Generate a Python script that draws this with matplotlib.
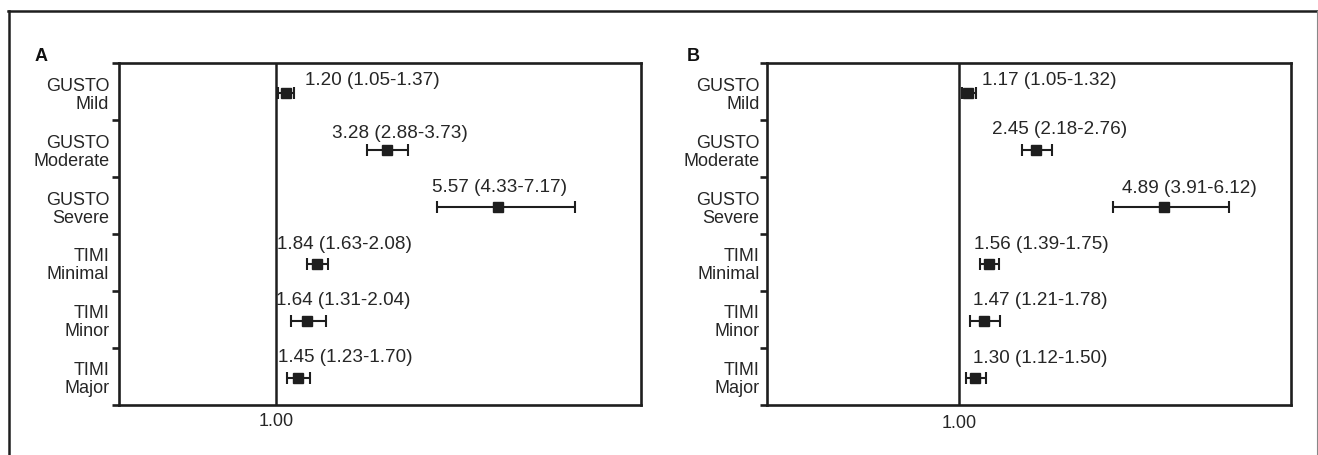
import matplotlib
matplotlib.use("Agg")
import matplotlib.pyplot as plt
from matplotlib.lines import Line2D
import numpy as np

plt.rcParams['font.family'] = ['Liberation Sans', 'DejaVu Sans']

# ---- data ----
categories = ["GUSTO\nMild", "GUSTO\nModerate", "GUSTO\nSevere",
              "TIMI\nMinimal", "TIMI\nMinor", "TIMI\nMajor"]

est_a = [1.20, 3.28, 5.57, 1.84, 1.64, 1.45]
low_a = [1.05, 2.88, 4.33, 1.63, 1.31, 1.23]
high_a = [1.37, 3.73, 7.17, 2.08, 2.04, 1.70]

est_b = [1.17, 2.45, 4.89, 1.56, 1.47, 1.30]
low_b = [1.05, 2.18, 3.91, 1.39, 1.21, 1.12]
high_b = [1.32, 2.76, 6.12, 1.75, 1.78, 1.50]

ref_value = 1.00
xtick_labels = ["1.00"]
panel_labels = ["A", "B"]

# ---- layout / style ----
W, H = 1318, 456
DARK = "#1e1e1e"
TXT = "#262626"
FS_DATA = 13.6
FS_CAT = 13.0

fig = plt.figure(figsize=(W / 100, H / 100), dpi=100)

def px_axes(left, right, top, bottom):
    return fig.add_axes([left / W, 1 - bottom / H, (right - left) / W, (bottom - top) / H])

panels = [
    dict(rect=(119, 641, 64.3, 405.7), xlim=(-2.237, 8.526),
         est=est_a, low=low_a, high=high_a, label_x=35, tick_pad=(7, 5),
         offs=[(13.7, 10), (-39.6, 13), (-47.5, 15), (-28.8, 15), (-22.3, 15.5), (-14, 15.5)]),
    dict(rect=(766.6, 1291.4, 64.3, 405.7), xlim=(-2.657, 7.30),
         est=est_b, low=low_b, high=high_b, label_x=686.6, tick_pad=(5, 7),
         offs=[(10, 10), (-31.7, 15.5), (-30.2, 14.5), (-10.8, 15), (-7.9, 15.5), (-1.4, 14.5)]),
]

n = len(categories)
ypos = np.arange(n)

for p, plabel in zip(panels, panel_labels):
    ax = px_axes(*p["rect"])
    est = np.array(p["est"]); lo = np.array(p["low"]); hi = np.array(p["high"])
    ax.set_xlim(*p["xlim"])
    ax.set_ylim(n - 0.5, -0.5)
    ax.axvline(ref_value, color=DARK, lw=1.8, zorder=1)
    ax.errorbar(est, ypos + 0.03, xerr=[est - lo, hi - est], fmt='s', color=DARK,
                ecolor=DARK, markersize=6.6, elinewidth=1.5, capsize=4.4, capthick=1.5,
                zorder=3)
    for i in range(n):
        txt = f"{est[i]:.2f} ({lo[i]:.2f}-{hi[i]:.2f})"
        dx, dy = p["offs"][i]
        ax.annotate(txt, xy=(est[i], ypos[i] + 0.03), xytext=(dx, dy),
                    textcoords='offset points', ha='left', va='center',
                    fontsize=FS_DATA, color=TXT)
    for s in ax.spines.values():
        s.set_linewidth(1.9)
        s.set_color(DARK)
    ax.set_yticks(ypos)
    ax.set_yticklabels(categories, fontsize=FS_CAT, color=TXT, linespacing=1.08)
    ax.set_yticks(np.arange(-0.5, n, 1.0), minor=True)
    ax.tick_params(axis='y', which='major', length=0, pad=p["tick_pad"][0])
    ax.tick_params(axis='y', which='minor', length=5, width=1.9, color=DARK, direction='out')
    ax.set_xticks([ref_value])
    ax.set_xticklabels(xtick_labels, fontsize=FS_CAT, color=TXT)
    ax.tick_params(axis='x', length=0, pad=p["tick_pad"][1])
    fig.text(p["label_x"] / W, 1 - 60.7 / H, plabel, fontsize=13,
             fontweight='bold', color="#111111", va='baseline', ha='left')

# outer frame
fig.add_artist(Line2D([8 / W, 1], [1 - 11.5 / H, 1 - 11.5 / H], transform=fig.transFigure,
                      color=DARK, lw=1.8))
fig.add_artist(Line2D([8.5 / W, 8.5 / W], [0, 1 - 11.5 / H], transform=fig.transFigure,
                      color=DARK, lw=1.8))
fig.add_artist(Line2D([1317 / W, 1317 / W], [0, 1 - 11.5 / H], transform=fig.transFigure,
                      color="#888888", lw=0.8))

fig.savefig("out.png", dpi=100)
